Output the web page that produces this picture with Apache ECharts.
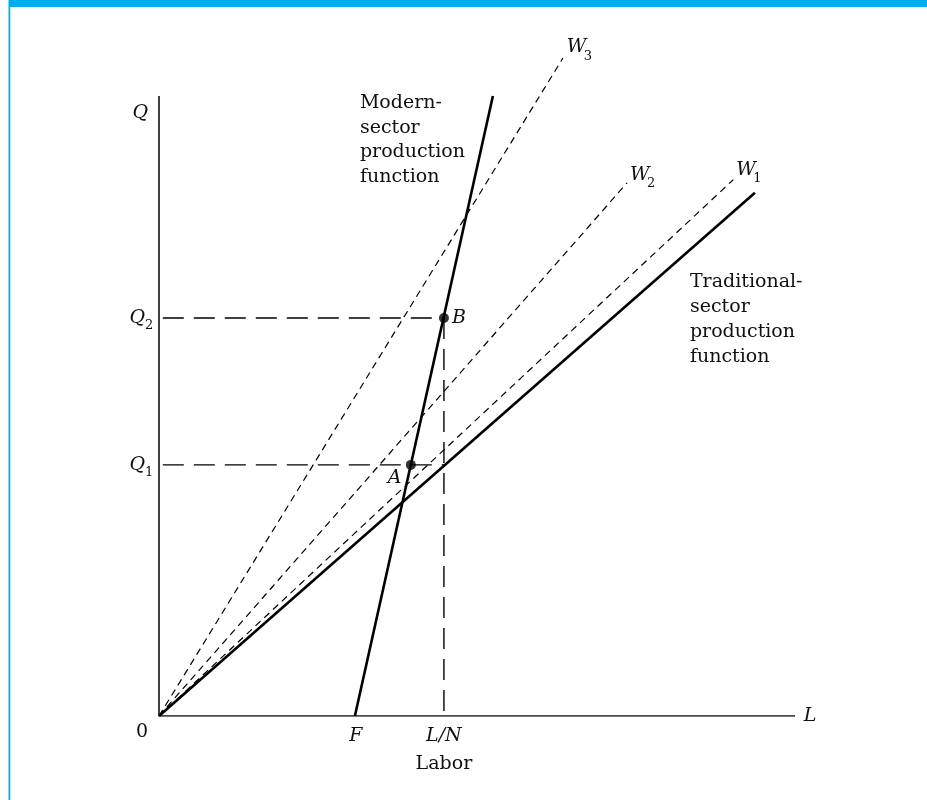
<!DOCTYPE html>
<html>
<head>
<meta charset="utf-8">
<script src="https://cdn.jsdelivr.net/npm/echarts@6/dist/echarts.min.js"></script>
<style>
html,body{margin:0;padding:0;background:#fff;}
#chart{width:927px;height:800px;}
</style>
</head>
<body>
<div id="chart"></div>
<script>
// ---- data (x: labor, y: output) ----
var F_X = 30.8;          // start of modern-sector production function
var LN_X = 44.8;         // L/N
var Q1 = 40.5;
var Q2 = 64.2;
var modernX = [30.8, 52.5];
var modernY = [0, 100];
var traditionalX = [0, 93.7];
var traditionalY = [0, 84.4];
var w1X = [0, 90.3], w1Y = [0, 86.5];
var w2X = [0, 73.6], w2Y = [0, 86.0];
var w3X = [0, 63.5], w3Y = [0, 106.1];
var pointA = [39.6, 40.5];
var pointB = [44.8, 64.2];
var axisXMax = 100;
var axisYMax = 100;

function pairs(xs, ys){ return xs.map(function(x,i){ return [x, ys[i]]; }); }

var chart = echarts.init(document.getElementById('chart'), null, {renderer:'canvas'});
var SERIF = '"DejaVu Serif", serif';
var INK = '#000';

var series = [
  // axes
  {type:'line', data:[[0,axisYMax],[0,0],[axisXMax,0]], symbol:'none',
   lineStyle:{color:'#111', width:1.6}, silent:true, z:3},
  // W rays (dashed)
  {type:'line', data:pairs(w1X,w1Y), symbol:'none', lineStyle:{color:INK,width:1.2,type:[7,5]}, z:2},
  {type:'line', data:pairs(w2X,w2Y), symbol:'none', lineStyle:{color:INK,width:1.2,type:[7,5]}, z:2},
  {type:'line', data:pairs(w3X,w3Y), symbol:'none', lineStyle:{color:INK,width:1.2,type:[7,5]}, z:2},
  // Q guides
  {type:'line', data:[[0.6,Q1],[LN_X,Q1]], symbol:'none', lineStyle:{color:INK,width:1.4,type:[21,10]}, z:2},
  {type:'line', data:[[0.6,Q2],[LN_X,Q2]], symbol:'none', lineStyle:{color:INK,width:1.4,type:[21,10]}, z:2},
  {type:'line', data:[[LN_X,Q2],[LN_X,0]], symbol:'none', lineStyle:{color:INK,width:1.4,type:[21,10]}, z:2},
  // production functions
  {type:'line', data:pairs(traditionalX,traditionalY), symbol:'none', lineStyle:{color:INK,width:2.6}, z:4},
  {type:'line', data:pairs(modernX,modernY), symbol:'none', lineStyle:{color:INK,width:2.6}, z:4},
  // points A, B
  {type:'scatter', data:[pointA, pointB], symbol:'circle', symbolSize:10,
   itemStyle:{color:INK}, z:5}
];

chart.setOption({
  animation:false,
  backgroundColor:'#fff',
  grid:{left:159, right:132, top:34, bottom:84, containLabel:false},
  xAxis:{type:'value', min:0, max:100, show:false},
  yAxis:{type:'value', min:0, max:110, show:false},
  series:series
});

function px(p){ return chart.convertToPixel({gridIndex:0}, p); }
function txt(p, dx, dy, text, opts){
  var q = px(p);
  opts = opts || {};
  return {
    type:'text', x:q[0]+dx, y:q[1]+dy, z:10,
    style:{
      text:text, fill:opts.fill||'#111',
      font:(opts.italic?'italic ':'')+(opts.size||19)+'px '+SERIF,
      align:opts.align||'left', verticalAlign:opts.va||'middle',
      lineHeight:opts.lh
    }
  };
}

var els = [];
// border decoration
els.push({type:'rect', shape:{x:9,y:0,width:918,height:7}, style:{fill:'#00AEEF'}, z:20});
els.push({type:'rect', shape:{x:8.5,y:0,width:1.8,height:800}, style:{fill:'#00AEEF'}, z:20});

// axis labels
els.push(txt([0,axisYMax], -11, 17, 'Q', {italic:true, align:'right'}));
els.push(txt([0,0], -17, 16, '0', {align:'center'}));
els.push(txt([axisXMax,0], 15, 0, 'L', {italic:true, align:'center'}));
els.push(txt([F_X,0], 1, 20, 'F', {italic:true, align:'center'}));
els.push(txt([LN_X,0], 0, 20, 'L/N', {italic:true, align:'center'}));
els.push(txt([LN_X,0], 0, 48, 'Labor', {align:'center'}));
// Q1, Q2
els.push(txt([0,Q1], -14, 0, 'Q', {italic:true, align:'right'}));
els.push(txt([0,Q1], -14, 8, '1', {size:13}));
els.push(txt([0,Q2], -14, 0, 'Q', {italic:true, align:'right'}));
els.push(txt([0,Q2], -14, 8, '2', {size:13}));
// points
els.push(txt(pointB, 8, 0, 'B', {italic:true}));
els.push(txt(pointA, -23, 13, 'A', {italic:true}));
// W labels
function wLabel(xs, ys, dx, dy, sub){
  var end = [xs[1], ys[1]];
  els.push(txt(end, dx, dy, 'W', {italic:true}));
  els.push(txt(end, dx+17, dy+9, sub, {size:13}));
}
wLabel(w3X, w3Y, 4, -11, '3');
wLabel(w2X, w2Y, 3, -8, '2');
wLabel(w1X, w1Y, 3, -10, '1');
// curve labels
els.push(txt([modernX[1], modernY[1]], -133, -5, 'Modern-\nsector\nproduction\nfunction', {va:'top', lh:24.5}));
els.push(txt([traditionalX[1], traditionalY[1]], -65, 77, 'Traditional-\nsector\nproduction\nfunction', {va:'top', lh:25}));

chart.setOption({graphic:{elements:els}});
</script>
</body>
</html>
